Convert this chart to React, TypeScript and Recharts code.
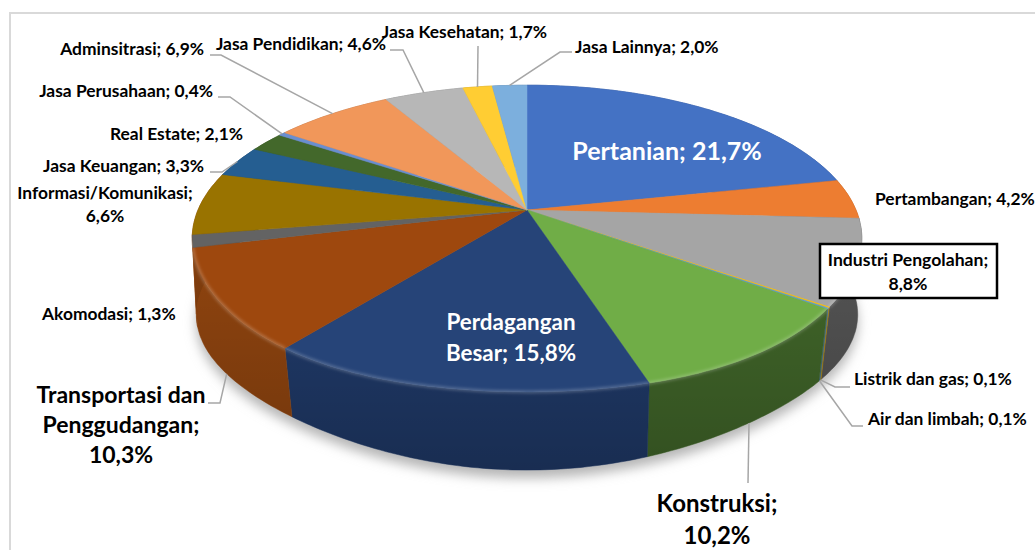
import { PieChart, Pie } from 'recharts';

const SECTORS = [
  'Pertanian', 'Pertambangan', 'Industri Pengolahan', 'Listrik dan gas', 'Air dan limbah',
  'Konstruksi', 'Perdagangan Besar', 'Transportasi dan Penggudangan', 'Akomodasi',
  'Informasi/Komunikasi', 'Jasa Keuangan', 'Real Estate', 'Jasa Perusahaan', 'Adminsitrasi',
  'Jasa Pendidikan', 'Jasa Kesehatan', 'Jasa Lainnya',
];
const SHARES = [21.7, 4.2, 8.8, 0.1, 0.1, 10.2, 15.8, 10.3, 1.3, 6.6, 3.3, 2.1, 0.4, 6.9, 4.6, 1.7, 2.0];
const COLORS = [
  '#4472c4', '#ed7d31', '#a5a5a5', '#ffc000', '#5b9bd5', '#70ad47', '#264478', '#9e480e', '#636363',
  '#997300', '#255e91', '#43682b', '#698ed0', '#f1975a', '#b7b7b7', '#ffcd33', '#7cafdd',
];
// akomodasi and informasi barely show at the left edge, they read as the orange wall there
const WALL_COLORS = [
  '#2f5090', '#a85820', '#565656', '#b08500', '#3f6c95', '#3d6027', '#1d3560', '#8f440f', '#8f440f',
  '#8f440f', '#1a4266', '#2f491e', '#4a6392', '#a8693f', '#808080', '#b38f24', '#577a9a',
];

type LabelSpec = {
  lines: string[];
  x: number;
  y: number;
  size: number;
  lineGap?: number;
  anchor?: 'start' | 'middle' | 'end';
  color?: string;
  leader?: number[][];
  onBase?: boolean;
  boxed?: boolean;
};

// hand placed, same order as SECTORS
const LABELS: LabelSpec[] = [
  { lines: ['Pertanian; 21,7%'], x: 667, y: 160, size: 25, color: '#fff' },
  { lines: ['Pertambangan; 4,2%'], x: 875, y: 205, size: 17.4, anchor: 'start' },
  { lines: ['Industri Pengolahan;', '8,8%'], x: 908, y: 266, size: 17.6, lineGap: 24, boxed: true },
  { lines: ['Listrik dan gas; 0,1%'], x: 854, y: 385, size: 17.4, anchor: 'start', leader: [[850, 387], [835, 387]], onBase: true },
  { lines: ['Air dan limbah; 0,1%'], x: 868, y: 425, size: 17.4, anchor: 'start', leader: [[863, 426], [852, 426]], onBase: true },
  { lines: ['Konstruksi;', '10,2%'], x: 717, y: 512, size: 24, lineGap: 32, leader: [[748, 483]], onBase: true },
  { lines: ['Perdagangan', 'Besar; 15,8%'], x: 511, y: 330, size: 22.4, lineGap: 31, color: '#fff' },
  { lines: ['Transportasi dan', 'Penggudangan;', '10,3%'], x: 121, y: 403, size: 23, lineGap: 30, leader: [[208, 403], [220, 403]], onBase: true },
  { lines: ['Akomodasi; 1,3%'], x: 42, y: 320, size: 17.4, anchor: 'start' },
  { lines: ['Informasi/Komunikasi;', '6,6%'], x: 105, y: 199, size: 17.4, lineGap: 23 },
  { lines: ['Jasa Keuangan; 3,3%'], x: 204, y: 172, size: 17.4, anchor: 'end', leader: [[210, 172], [222, 172]] },
  { lines: ['Real Estate; 2,1%'], x: 243, y: 140, size: 17.4, anchor: 'end' },
  { lines: ['Jasa Perusahaan; 0,4%'], x: 213, y: 97, size: 17.4, anchor: 'end', leader: [[218, 97], [230, 97]] },
  { lines: ['Adminsitrasi; 6,9%'], x: 204, y: 55, size: 17.4, anchor: 'end', leader: [[210, 55], [221, 55]] },
  { lines: ['Jasa Pendidikan; 4,6%'], x: 386, y: 50, size: 17.4, anchor: 'end', leader: [[390, 50], [403, 50]] },
  { lines: ['Jasa Kesehatan; 1,7%'], x: 547, y: 38, size: 17.4, anchor: 'end', leader: [[478, 46]] },
  { lines: ['Jasa Lainnya; 2,0%'], x: 575, y: 53, size: 17.4, anchor: 'start', leader: [[572, 52], [560, 52]] },
];

const chartData = SECTORS.map((name, i) => ({ name, value: SHARES[i] }));
const shadowData = [{ name: 'shadow', value: SHARES.reduce((a, b) => a + b, 0) }];

// the disc is seen in perspective, so its centre sits above the middle of the ellipse
const TILT = 0.186;
const SQUASH = 0.45;
const BASE_DROP = 80;
const BASE_X = 0.99;
const BASE_Y = 0.99;
const RAD = Math.PI / 180;

const project = (cx: number, cy: number, r: number, angle: number, base = false) => {
  const u = Math.cos(angle * RAD);
  const v = Math.sin(angle * RAD);
  const w = 1 + TILT * v;
  const rx = base ? r * BASE_X : r;
  const ry = (base ? r * BASE_Y : r) * SQUASH;
  // the bevelled front edge is not a true ellipse, nudge the diagonals
  const diag = v < 0 ? Math.sin(2 * angle * RAD) ** 2 : 0;
  const fx = base ? 1 - 0.02 * diag : 1;
  const fy = base ? 1 - 0.05 * diag : 1 + 0.03 * diag;
  return [cx + (fx * rx * u) / w, cy + (base ? BASE_DROP : 0) - (fy * ry * v) / w];
};

const arcPoints = (p: any, base = false) => {
  const steps = Math.max(2, Math.ceil(Math.abs(p.endAngle - p.startAngle)));
  const pts: number[][] = [];
  for (let i = 0; i <= steps; i++) {
    const a = p.startAngle + ((p.endAngle - p.startAngle) * i) / steps;
    pts.push(project(p.cx, p.cy, p.outerRadius, a, base));
  }
  return pts;
};

const toLine = (pts: number[][]) =>
  pts.map(([x, y], i) => `${i ? 'L' : 'M'}${x.toFixed(1)},${y.toFixed(1)}`).join('');

const toPath = (pts: number[][]) => toLine(pts) + 'Z';

const ShadowShape = (p: any) => (
  <path d={toPath(arcPoints(p, true).map(([x, y]) => [x, y + 8]))} fill="#b5b5b5" filter="url(#pieShadow)" />
);

const WallShape = (p: any) => {
  const top = arcPoints(p);
  const bottom = arcPoints(p, true).reverse();
  const d = toPath([...top, ...bottom]);
  return (
    <g>
      <path d={d} fill={WALL_COLORS[p.index ?? 0]} stroke={WALL_COLORS[p.index ?? 0]} strokeWidth={0.5} />
      <path d={d} fill="url(#wallShade)" />
    </g>
  );
};

const TopShape = (p: any) => {
  const rim = arcPoints(p);
  // bevel highlight only along the front edge
  const front = rim.filter((pt) => pt[1] > p.cy + 30);
  return (
    <g>
      <path d={toPath([[p.cx, p.cy], ...rim])} fill={p.fill} stroke={p.fill} strokeWidth={0.5} />
      {front.length > 1 && (
        <path d={toLine(front)} fill="none" stroke="#fff" strokeOpacity={0.22} strokeWidth={3} filter="url(#bevelBlur)" />
      )}
    </g>
  );
};

const renderLabel = (p: any) => {
  const spec = LABELS[p.index];
  const gap = spec.lineGap ?? 0;
  const end = project(p.cx, p.cy, p.outerRadius, p.midAngle, spec.onBase);
  return (
    <g key={p.index}>
      {spec.leader && (
        <path d={toLine([...spec.leader, end])} fill="none" stroke="#a6a6a6" strokeWidth={1.5} />
      )}
      {spec.boxed && (
        <rect x={820} y={244} width={177} height={54} fill="#fff" stroke="#000" strokeWidth={2.5} />
      )}
      <text
        textAnchor={spec.anchor ?? 'middle'}
        fontFamily="Lato, sans-serif"
        fontWeight={700}
        fontSize={spec.size}
        fill={spec.color ?? '#000'}
      >
        {spec.lines.map((line, i) => (
          <tspan key={i} x={spec.x} y={spec.y + i * gap}>{line}</tspan>
        ))}
      </text>
    </g>
  );
};

export default function App() {
  return (
    <div style={{ position: 'absolute', left: 0, top: 0, width: 1035, height: 550, background: '#fff', overflow: 'hidden' }}>
      <div style={{ position: 'absolute', left: 9, top: 12, width: 1026, height: 538, borderTop: '2px solid #d9d9d9', borderLeft: '2px solid #d9d9d9' }} />
      <div style={{ position: 'absolute', left: 0, top: 0 }}>
        <PieChart width={1035} height={550} margin={{ top: 0, right: 0, bottom: 0, left: 0 }}>
          <defs>
            <filter id="pieShadow" x="-10%" y="-10%" width="120%" height="130%">
              <feGaussianBlur stdDeviation="6" />
            </filter>
            <filter id="bevelBlur" x="-10%" y="-50%" width="120%" height="200%">
              <feGaussianBlur stdDeviation="1.5" />
            </filter>
            <linearGradient id="wallShade" x1="0" y1="0" x2="0" y2="1">
              <stop offset="0%" stopColor="#000" stopOpacity={0} />
              <stop offset="100%" stopColor="#000" stopOpacity={0.15} />
            </linearGradient>
          </defs>
          <Pie
            data={shadowData}
            dataKey="value"
            cx={527}
            cy={210}
            outerRadius={329}
            startAngle={90}
            endAngle={-270}
            stroke="none"
            isAnimationActive={false}
            shape={ShadowShape}
            inactiveShape={ShadowShape}
            activeShape={ShadowShape}
          />
          <Pie
            data={chartData}
            dataKey="value"
            cx={527}
            cy={210}
            outerRadius={329}
            startAngle={90}
            endAngle={-270}
            stroke="none"
            isAnimationActive={false}
            shape={WallShape}
            inactiveShape={WallShape}
            activeShape={WallShape}
          />
          <Pie
            data={chartData.map((d, i) => ({ ...d, fill: COLORS[i] }))}
            dataKey="value"
            nameKey="name"
            cx={527}
            cy={210}
            outerRadius={329}
            startAngle={90}
            endAngle={-270}
            stroke="none"
            isAnimationActive={false}
            shape={TopShape}
            inactiveShape={TopShape}
            activeShape={TopShape}
            label={renderLabel}
            labelLine={false}
          />
        </PieChart>
      </div>
    </div>
  );
}
